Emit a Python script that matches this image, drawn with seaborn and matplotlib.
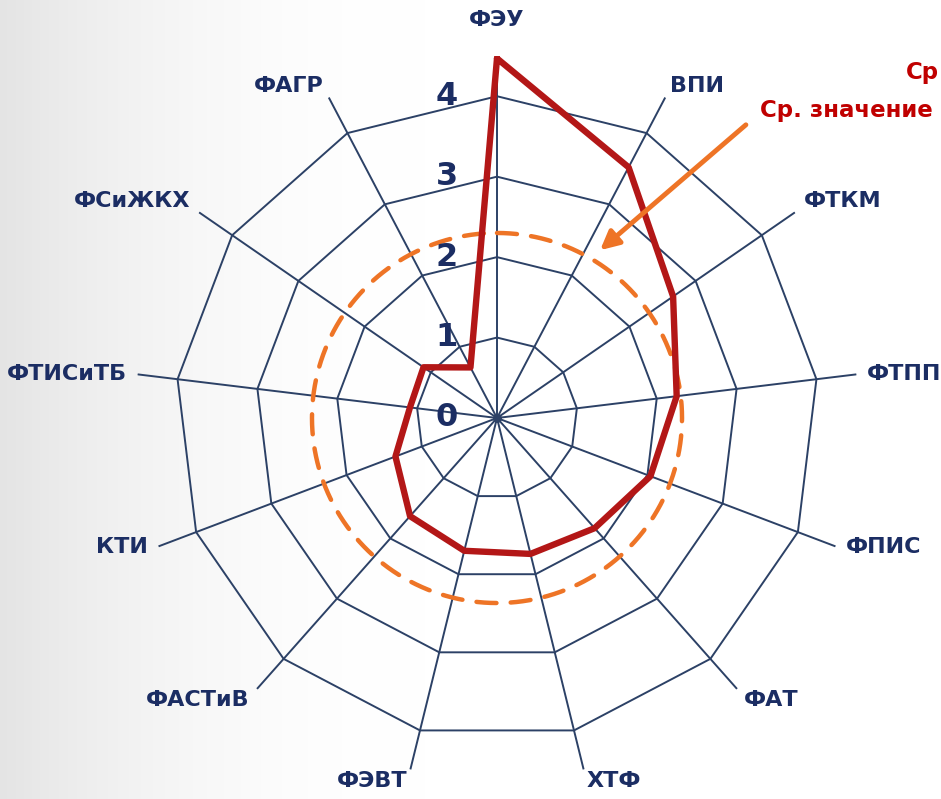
import numpy as np
import pandas as pd
import seaborn as sns
import matplotlib
matplotlib.use("Agg")
import matplotlib.pyplot as plt
from matplotlib.patches import FancyArrowPatch
from matplotlib.transforms import ScaledTranslation

# ---------------- data ----------------
categories = ["ФЭУ", "ВПИ", "ФТКМ", "ФТПП", "ФПИС", "ФАТ", "ХТФ",
              "ФЭВТ", "ФАСТиВ", "КТИ", "ФТИСиТБ", "ФСиЖКХ", "ФАГР"]
values = [4.47, 3.52, 2.66, 2.25, 2.04, 1.83, 1.74, 1.70, 1.63, 1.35, 1.09, 1.11, 0.71]
average_value = 2.3
ring_levels = [1, 2, 3, 4]
tick_labels = ["0", "1", "2", "3", "4"]
axis_max = 4.5
legend_text = "Ср. значение"
legend_text_top = "Ср"

# ---------------- style ----------------
sns.set_theme(style="white")
plt.rcParams['font.family'] = ['DejaVu Sans']

W, H, DPI = 941, 799, 100
fig = plt.figure(figsize=(W / DPI, H / DPI), dpi=DPI)

# background gradient (light grey at left -> white)
bg = fig.add_axes([0, 0, 1, 1], zorder=0)
xs = np.linspace(0, 1, 400)
grad = np.clip(xs / 0.45, 0, 1)
shade = 0.895 + 0.105 * (1 - (1 - grad) ** 2)
img = np.tile(shade, (50, 1))
bg.imshow(np.dstack([img, img, img]), aspect="auto", extent=[0, 1, 0, 1])
bg.set_axis_off()

navy = "#1b2d63"
grid_col = "#2c4166"
red = "#b31717"
orange = "#ee7426"

cx, cy, R = 497, 418, 362  # pixel centre and radius of axis_max
ax = fig.add_axes([(cx - R) / W, (H - cy - R) / H, 2 * R / W, 2 * R / H],
                  projection="polar", zorder=1)
ax.set_theta_zero_location("N")
ax.set_theta_direction(-1)
ax.set_ylim(0, axis_max)
ax.patch.set_alpha(0)
ax.spines["polar"].set_visible(False)
ax.grid(False)
ax.set_xticks([])
ax.set_yticks([])

n = len(categories)
theta = np.arange(n) * 2 * np.pi / n
theta_closed = np.append(theta, theta[0])

# rings
for lvl in ring_levels:
    ax.plot(theta_closed, [lvl] * (n + 1), color=grid_col, lw=1.4, zorder=2)
# spokes
for th in theta:
    ax.plot([th, th], [0, axis_max], color=grid_col, lw=1.4, zorder=2)
ax.scatter([0], [0], s=30, color=grid_col, zorder=3)

# average (dashed orange, circular)
tt = np.linspace(0, 2 * np.pi, 361)
ax.plot(tt, np.full_like(tt, average_value), color=orange, lw=3.2,
        dashes=(4.5, 3.2), zorder=4, solid_capstyle="round", dash_capstyle="round")

# main series via seaborn
df = pd.DataFrame({"theta": theta_closed, "value": values + [values[0]]})
sns.lineplot(data=df, x="theta", y="value", sort=False, estimator=None,
             color=red, lw=4.6, ax=ax, zorder=5)
ax.set_xlabel("")
ax.set_ylabel("")
ax.set_xticks([])
ax.set_yticks([])
ax.set_ylim(0, axis_max)

# category labels
for name, th in zip(categories, theta):
    s, c = np.sin(th), np.cos(th)
    if abs(s) < 0.1:
        ha = "center"
    else:
        ha = "left" if s > 0 else "right"
    if c > 0.5:
        va = "bottom"
    elif c < -0.5:
        va = "top"
    else:
        va = "center"
    dx = 11 * s
    dy = 2 * c
    if abs(s) < 0.1:
        dy = 26
    ax.annotate(name, xy=(th, axis_max), xytext=(dx * 72 / DPI, dy * 72 / DPI),
                textcoords="offset points", ha=ha, va=va, fontsize=16,
                fontweight="bold", color=navy, annotation_clip=False)

# radial tick labels
off = ScaledTranslation(-50 / DPI, 0, fig.dpi_scale_trans)
for i, lab in enumerate(tick_labels):
    ax.text(0, i, lab, transform=ax.transData + off, ha="center", va="center",
            fontsize=23, fontweight="bold", color=navy, zorder=6)

# legend-like texts and arrow
fig.text(760 / W, 1 - 111 / H, legend_text, ha="left", va="center",
         fontsize=16.5, fontweight="bold", color="#c00000", zorder=7)
fig.text(939 / W, 1 - 73 / H, legend_text_top, ha="right", va="center",
         fontsize=16.5, fontweight="bold", color="#c00000", zorder=7)
arrow = FancyArrowPatch((748 / W, 1 - 123 / H), (598 / W, 1 - 252 / H),
                        transform=fig.transFigure, arrowstyle="-|>",
                        mutation_scale=28, lw=3.5, color=orange, zorder=8)
fig.add_artist(arrow)

fig.savefig("out.png", dpi=DPI)
